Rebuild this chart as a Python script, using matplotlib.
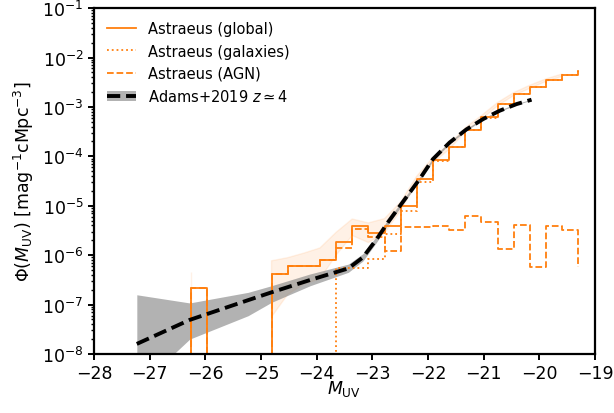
import numpy as np
import matplotlib
matplotlib.use("Agg")
import matplotlib.pyplot as plt
from matplotlib.patches import Patch
from matplotlib.lines import Line2D

# ---------------- data ----------------
bin_start = -26.26
bin_width = 0.29
n_bins = 24

# Astraeus global UV LF per bin (0 = empty bin)
phi_global = [2.16e-7, 0, 0, 0, 0, 4.16e-7, 6.1e-7, 6.1e-7, 8.0e-7, 1.87e-6,
              3.94e-6, 2.8e-6, 3.94e-6, 9.7e-6, 3.47e-5, 8.4e-5, 1.56e-4, 3.45e-4,
              6.15e-4, 1.14e-3, 1.82e-3, 2.56e-3, 3.49e-3, 4.4e-3]
phi_global_end = 5.4e-3

phi_gal = [0, 0, 0, 0, 0, 0, 0, 0, 0, 5.4e-7,
           5.4e-7, 8.3e-7, 2.7e-6, 8.0e-6, 3.0e-5, 7.9e-5, 1.52e-4, 3.4e-4,
           6.1e-4, 1.14e-3, 1.82e-3, 2.56e-3, 3.49e-3, 4.4e-3]
phi_gal_end = 5.4e-3

phi_agn = [2.16e-7, 0, 0, 0, 0, 4.16e-7, 6.1e-7, 6.1e-7, 8.0e-7, 1.37e-6,
           3.38e-6, 2.36e-6, 1.23e-6, 3.65e-6, 3.65e-6, 3.9e-6, 3.27e-6, 6.1e-6,
           4.75e-6, 1.33e-6, 4.05e-6, 5.85e-7, 3.9e-6, 3.27e-6]
phi_agn_end = 5.8e-7

# error band of the global LF (NaN = no band)
band_lo = [1.5e-8, np.nan, np.nan, np.nan, np.nan, 5.6e-8, 1.6e-7, 2.6e-7, 3.3e-7, 1.0e-6,
           2.5e-6, 1.8e-6, 2.8e-6, 8.0e-6, 3.0e-5, 7.4e-5, 1.38e-4, 3.1e-4,
           5.6e-4, 1.05e-3, 1.7e-3, 2.38e-3, 3.28e-3, 4.15e-3]
band_hi = [4.6e-7, np.nan, np.nan, np.nan, np.nan, 7.7e-7, 8.9e-7, 1.1e-6, 1.4e-6, 2.9e-6,
           5.4e-6, 4.5e-6, 5.5e-6, 1.2e-5, 4.0e-5, 9.5e-5, 1.75e-4, 3.8e-4,
           6.7e-4, 1.23e-3, 1.95e-3, 2.75e-3, 3.7e-3, 4.65e-3]

# Adams+2019 z~4 fit
adams_M = [-27.23, -26.28, -25.23, -24.81, -24.12, -23.43, -23.17, -22.92, -22.72,
           -22.48, -22.15, -21.91, -21.61, -21.31, -21.01, -20.71, -20.41, -20.14]
adams_phi = [1.6e-8, 4.9e-8, 1.23e-7, 1.77e-7, 3.14e-7, 5.4e-7, 9.0e-7, 2.12e-6, 4.6e-6,
             1.08e-5, 3.47e-5, 8.8e-5, 1.91e-4, 3.5e-4, 5.68e-4, 8.4e-4, 1.14e-3, 1.40e-3]
adams_lo = [2e-9, 2.0e-8, 5.96e-8, 1.11e-7, 2.4e-7, 4.5e-7, 7.6e-7, 1.85e-6, 4.1e-6,
            9.8e-6, 3.2e-5, 8.2e-5, 1.8e-4, 3.35e-4, 5.45e-4, 8.1e-4, 1.11e-3, 1.37e-3]
adams_hi = [1.58e-7, 1.08e-7, 1.77e-7, 2.41e-7, 4.16e-7, 6.6e-7, 1.07e-6, 2.45e-6, 5.2e-6,
            1.19e-5, 3.75e-5, 9.4e-5, 2.02e-4, 3.65e-4, 5.9e-4, 8.7e-4, 1.17e-3, 1.43e-3]

# ---------------- plot ----------------
plt.rcParams['font.family'] = ['DejaVu Sans']
plt.rcParams['font.size'] = 12.5

fig = plt.figure(figsize=(6.14, 4.14), dpi=100)
ax = fig.add_axes([0.153, 0.1425, 0.816, 0.8355])

edges = bin_start + bin_width * np.arange(n_bins + 1)
orange = 'C1'

def stepdata(vals, endval):
    x = np.concatenate([[edges[0]], edges])
    y = np.concatenate([[0.0], np.asarray(vals, float), [endval]])
    return x, y

ax.fill_between(edges[:-1], band_lo, band_hi, color=orange, alpha=0.1, lw=1)

xg, yg = stepdata(phi_global, phi_global_end)
ax.plot(xg, yg, drawstyle='steps-post', color=orange, lw=1.3)
xa, ya = stepdata(phi_gal, phi_gal_end)
ax.plot(xa, ya, drawstyle='steps-post', color=orange, lw=1.3, ls=':')
xn, yn = stepdata(phi_agn, phi_agn_end)
ax.plot(xn, yn, drawstyle='steps-post', color=orange, lw=1.3, ls='--')

ax.fill_between(adams_M, adams_lo, adams_hi, color='gray', alpha=0.6, lw=0)
ax.plot(adams_M, adams_phi, color='black', lw=2.8, ls='--', dashes=(3.4, 1.5))

ax.set_yscale('log')
ax.set_xlim(-28, -19)
ax.set_ylim(1e-8, 1e-1)
ax.set_xticks(np.arange(-28, -18, 1))
for sp in ax.spines.values():
    sp.set_linewidth(1.6)
ax.tick_params(which='major', width=1.4, length=4.5, pad=3)
ax.tick_params(which='minor', width=1.0, length=2.5)

ax.set_xlabel(r'$M_\mathrm{UV}$', labelpad=-3)
ax.set_ylabel(r'$\Phi(M_\mathrm{UV})$ [mag$^{-1}$cMpc$^{-3}$]', labelpad=4)

h1 = Line2D([], [], color=orange, lw=1.3)
h2 = Line2D([], [], color=orange, lw=1.3, ls=':')
h3 = Line2D([], [], color=orange, lw=1.3, ls='--')
h4 = (Patch(facecolor='gray', alpha=0.6, lw=0),
      Line2D([], [], color='black', lw=2.8, ls='--', dashes=(3.4, 1.5)))
ax.legend([h1, h2, h3, h4],
          ['Astraeus (global)', 'Astraeus (galaxies)', 'Astraeus (AGN)',
           r'Adams+2019 $z \simeq 4$'],
          loc='upper left', frameon=False, fontsize=10.5)

fig.savefig('out.png', dpi=100)
